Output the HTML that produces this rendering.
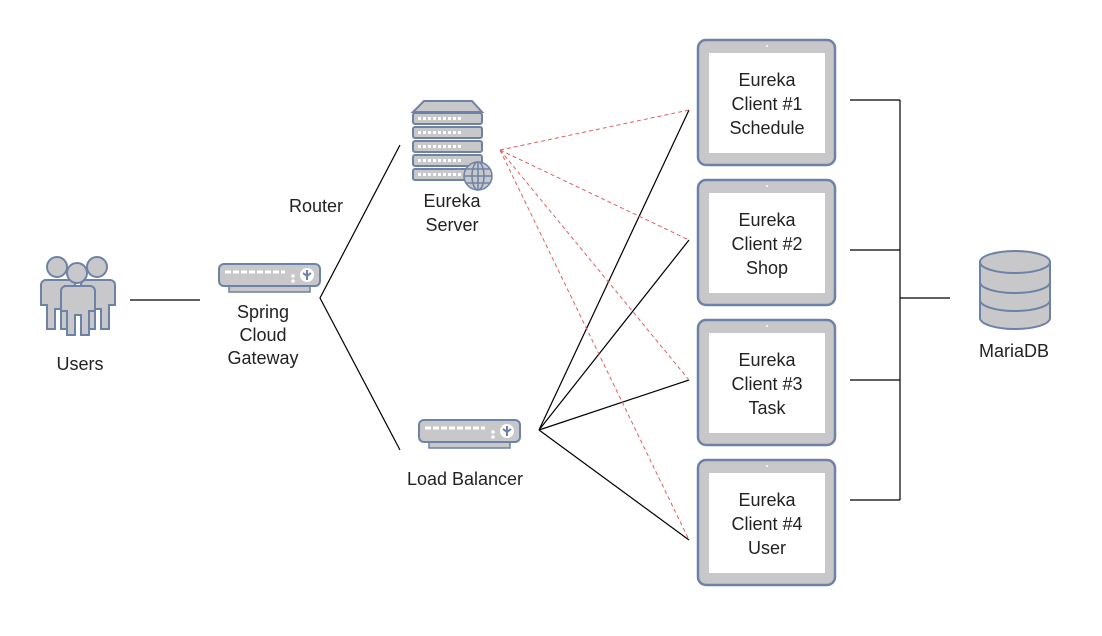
<!DOCTYPE html>
<html><head><style>
body{margin:0;background:#fff;}
svg{display:block;font-family:"Liberation Sans",Arial,sans-serif;}
text{font-size:18px;fill:#222;text-anchor:middle;}
</style></head><body>
<svg width="1102" height="636" viewBox="0 0 1102 636" xmlns="http://www.w3.org/2000/svg">
<defs>
<g id="dev">
 <rect x="10" y="21" width="81" height="7" fill="#c8c8ca" stroke="#6d82a6" stroke-width="1.5"/>
 <rect x="0" y="0" width="101" height="22" rx="5" fill="#c8c8ca" stroke="#6d82a6" stroke-width="2"/>
 <line x1="6" y1="8" x2="66" y2="8" stroke="#fff" stroke-width="3" stroke-dasharray="6,2"/>
 <circle cx="74" cy="12" r="1.8" fill="#fff"/><circle cx="74" cy="17" r="1.8" fill="#fff"/>
 <circle cx="88" cy="11" r="7" fill="#fff"/>
 <path d="M88 6v10M84 9l4 3 4-3" stroke="#6d82a6" stroke-width="2" fill="none"/>
</g>
<g id="tab">
 <rect x="0" y="0" width="137" height="125" rx="8" fill="#c8c8ca" stroke="#6d82a6" stroke-width="2.5"/>
 <rect x="11" y="13" width="116" height="100" fill="#fff"/>
 <circle cx="69" cy="6" r="1" fill="#fff"/>
</g>
<g id="person">
 <circle cx="0" cy="0" r="10" fill="#c8c8ca" stroke="#6d82a6" stroke-width="2"/>
 <path d="M-13 13 h26 a5 5 0 0 1 5 5 v20 h-6 v24 h-8 v-20 h-6 v20 h-8 v-24 h-6 v-20 a5 5 0 0 1 5 -5z" fill="#c8c8ca" stroke="#6d82a6" stroke-width="2"/>
</g>
</defs>

<!-- connectors -->
<g stroke="#000" stroke-width="1.2" fill="none">
 <line x1="130" y1="300" x2="200" y2="300"/>
 <polyline points="400,145 320,298 400,450"/>
 <line x1="539" y1="430" x2="689" y2="110"/>
 <line x1="539" y1="430" x2="689" y2="240"/>
 <line x1="539" y1="430" x2="689" y2="380"/>
 <line x1="539" y1="430" x2="689" y2="540"/>
 <line x1="850" y1="100" x2="900" y2="100"/>
 <line x1="850" y1="250" x2="900" y2="250"/>
 <line x1="850" y1="380" x2="900" y2="380"/>
 <line x1="850" y1="500" x2="900" y2="500"/>
 <line x1="900" y1="100" x2="900" y2="500"/>
 <line x1="900" y1="298" x2="950" y2="298"/>
</g>
<g stroke="#e06060" stroke-width="1" fill="none" stroke-dasharray="4,3">
 <line x1="500" y1="150" x2="689" y2="110"/>
 <line x1="500" y1="150" x2="689" y2="240"/>
 <line x1="500" y1="150" x2="689" y2="380"/>
 <line x1="500" y1="150" x2="689" y2="540"/>
</g>

<!-- users -->
<use href="#person" x="57" y="267"/>
<use href="#person" x="97" y="267"/>
<use href="#person" x="77" y="273"/>
<text x="80" y="370">Users</text>

<!-- gateway -->
<use href="#dev" x="219" y="264"/>
<text x="263" y="318">Spring</text>
<text x="263" y="341">Cloud</text>
<text x="263" y="364">Gateway</text>

<text x="316" y="212">Router</text>

<!-- eureka server -->
<g stroke="#6d82a6" stroke-width="2" fill="#c8c8ca">
 <path d="M424 101 h48 l10 11 h-69z"/>
 <rect x="413" y="113" width="69" height="11" rx="2"/>
 <rect x="413" y="127" width="69" height="11" rx="2"/>
 <rect x="413" y="141" width="69" height="11" rx="2"/>
 <rect x="413" y="155" width="69" height="11" rx="2"/>
 <rect x="413" y="169" width="69" height="11" rx="2"/>
</g>
<g stroke="#fff" stroke-width="3" stroke-dasharray="3,2">
 <line x1="418" y1="118.5" x2="462" y2="118.5"/>
 <line x1="418" y1="132.5" x2="462" y2="132.5"/>
 <line x1="418" y1="146.5" x2="462" y2="146.5"/>
 <line x1="418" y1="160.5" x2="462" y2="160.5"/>
 <line x1="418" y1="174.5" x2="462" y2="174.5"/>
</g>
<g stroke="#6d82a6" stroke-width="1.5" fill="#c8c8ca">
 <circle cx="478" cy="176" r="14"/>
 <ellipse cx="478" cy="176" rx="6" ry="14" fill="none"/>
 <line x1="464" y1="176" x2="492" y2="176"/>
 <line x1="466" y1="169" x2="490" y2="169"/>
 <line x1="466" y1="183" x2="490" y2="183"/>
 <line x1="478" y1="162" x2="478" y2="190"/>
</g>
<text x="452" y="207">Eureka</text>
<text x="452" y="231">Server</text>

<!-- load balancer -->
<use href="#dev" x="419" y="420"/>
<text x="465" y="485">Load Balancer</text>

<!-- clients -->
<use href="#tab" x="698" y="40"/>
<use href="#tab" x="698" y="180"/>
<use href="#tab" x="698" y="320"/>
<use href="#tab" x="698" y="460"/>
<text x="767" y="86">Eureka</text><text x="767" y="110">Client #1</text><text x="767" y="134">Schedule</text>
<text x="767" y="226">Eureka</text><text x="767" y="250">Client #2</text><text x="767" y="274">Shop</text>
<text x="767" y="366">Eureka</text><text x="767" y="390">Client #3</text><text x="767" y="414">Task</text>
<text x="767" y="506">Eureka</text><text x="767" y="530">Client #4</text><text x="767" y="554">User</text>

<!-- DB -->
<g stroke="#6d82a6" stroke-width="2" fill="#c8c8ca">
 <path d="M980 262 v56 a35 11 0 0 0 70 0 v-56"/>
 <ellipse cx="1015" cy="262" rx="35" ry="11"/>
 <path d="M980 282 a35 11 0 0 0 70 0 M980 300 a35 11 0 0 0 70 0" fill="none"/>
</g>
<text x="1014" y="357">MariaDB</text>
</svg>
</body></html>
